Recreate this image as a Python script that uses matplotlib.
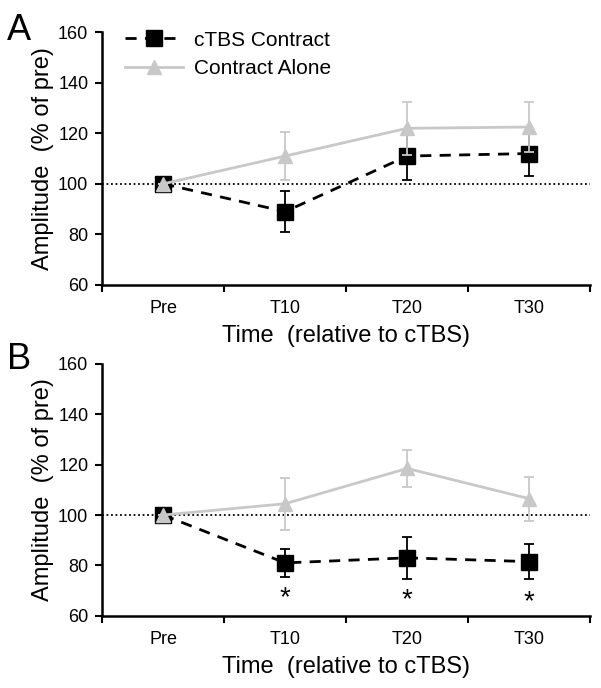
import matplotlib
matplotlib.use("Agg")
import matplotlib.pyplot as plt
from matplotlib.lines import Line2D
import numpy as np

plt.rcParams['font.family'] = ['Liberation Sans', 'DejaVu Sans']

categories = ["Pre", "T10", "T20", "T30"]

# Panel A
a_ctbs = [100, 89, 111, 112]
a_ctbs_err = [0, 8, 9.5, 9]
a_alone = [100, 111, 122, 122.5]
a_alone_err = [0, 9.5, 10.5, 10]

# Panel B
b_ctbs = [100, 81, 83, 81.5]
b_ctbs_err = [0, 5.5, 8.3, 7]
b_alone = [100, 104.5, 118.5, 106.5]
b_alone_err = [0, 10.3, 7.5, 8.7]
b_stars_y = [71, 70, 69.5]

fig = plt.figure(figsize=(6.01, 6.88), dpi=100)
axA = fig.add_axes([0.170, 0.586, 0.812, 0.367])
axB = fig.add_axes([0.170, 0.105, 0.812, 0.366])

grey = '#c8c8c8'
x = np.arange(len(categories))

def draw(ax, ctbs, ctbs_err, alone, alone_err):
    ax.axhline(100, color='black', linestyle=(0, (1, 1.5)), linewidth=1.3, zorder=1)
    ax.errorbar(x, ctbs, yerr=ctbs_err, color='black', linestyle=(0, (4, 3)),
                linewidth=2, marker='s', markersize=11, capsize=3.5,
                elinewidth=1.3, capthick=1.3, zorder=3)
    ax.errorbar(x, alone, yerr=alone_err, color=grey, linestyle='-',
                linewidth=2, marker='^', markersize=10, capsize=3.5,
                elinewidth=1.3, capthick=1.3, zorder=4)
    ax.set_xlim(-0.5, 3.5)
    ax.set_ylim(60, 160)
    ax.set_yticks([60, 80, 100, 120, 140, 160])
    ax.set_xticks(np.arange(-0.5, 4.0, 1.0))
    ax.set_xticklabels([])
    ax.set_xticks(x, minor=True)
    ax.set_xticklabels(categories, minor=True)
    ax.tick_params(axis='x', which='minor', length=0, labelsize=13, pad=11)
    ax.tick_params(axis='x', which='major', length=5, width=1.5, direction='out')
    ax.tick_params(axis='y', length=5, width=1.5, labelsize=13, pad=5)
    for s in ['top', 'right']:
        ax.spines[s].set_visible(False)
    for s in ['left', 'bottom']:
        ax.spines[s].set_linewidth(1.8)
    ax.set_ylabel('Amplitude  (% of pre)', fontsize=17, labelpad=3)
    ax.set_xlabel('Time  (relative to cTBS)', fontsize=17, labelpad=6)

draw(axA, a_ctbs, a_ctbs_err, a_alone, a_alone_err)
draw(axB, b_ctbs, b_ctbs_err, b_alone, b_alone_err)

for xi, ys in zip(x[1:], b_stars_y):
    axB.text(xi, ys - 4, '*', ha='center', va='center', fontsize=20)

handles = [
    Line2D([], [], color='black', linestyle=(0, (4, 3)), linewidth=2,
           marker='s', markersize=11),
    Line2D([], [], color=grey, linestyle='-', linewidth=2,
           marker='^', markersize=10),
]
axA.legend(handles, ['cTBS Contract', 'Contract Alone'], loc='upper left',
           bbox_to_anchor=(0.03, 1.04), frameon=False, fontsize=15,
           handlelength=2.8, handletextpad=0.5, labelspacing=0.45,
           borderaxespad=0)

fig.text(0.012, 0.955, 'A', fontsize=26, va='center')
fig.text(0.012, 0.478, 'B', fontsize=26, va='center')

fig.savefig('out.png', dpi=100)
